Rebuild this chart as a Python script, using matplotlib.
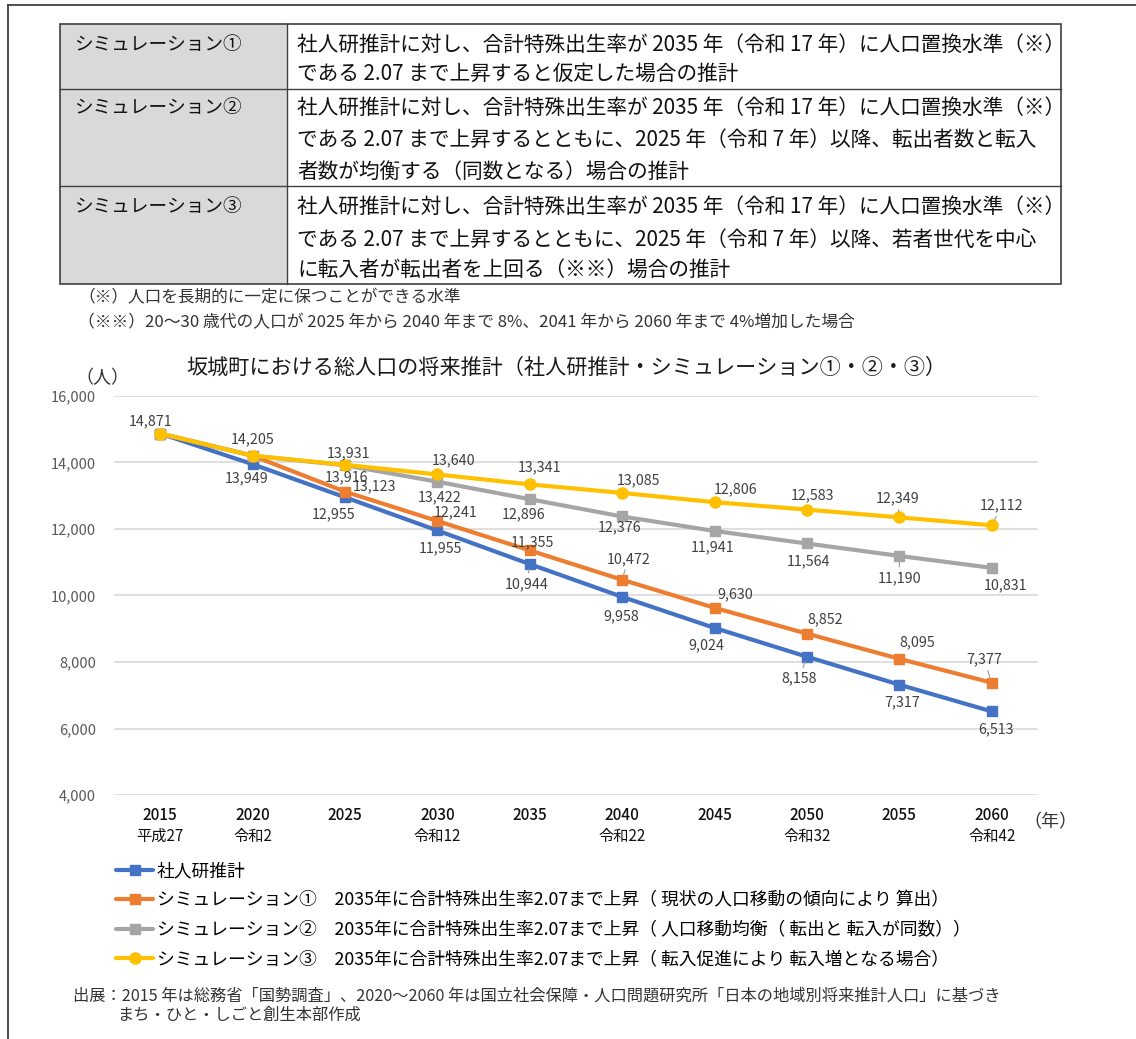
import matplotlib
matplotlib.use("Agg")
import matplotlib.pyplot as plt
from matplotlib.patches import Rectangle
from matplotlib.lines import Line2D

plt.rcParams['font.family'] = ['Noto Sans CJK JP', 'DejaVu Sans']

# ---- data -------------------------------------------------------------
years = ['2015', '2020', '2025', '2030', '2035', '2040', '2045', '2050', '2055', '2060']
eras = ['平成27', '令和2', '', '令和12', '', '令和22', '', '令和32', '', '令和42']

ipss = [14871, 13949, 12955, 11955, 10944, 9958, 9024, 8158, 7317, 6513]
sim1 = [14871, 14205, 13123, 12241, 11355, 10472, 9630, 8852, 8095, 7377]
sim2 = [14871, 14205, 13916, 13422, 12896, 12376, 11941, 11564, 11190, 10831]
sim3 = [14871, 14205, 13931, 13640, 13341, 13085, 12806, 12583, 12349, 12112]

series_names = [
    '社人研推計',
    'シミュレーション①　2035年に合計特殊出生率2.07まで上昇（ 現状の人口移動の傾向により 算出）',
    'シミュレーション②　2035年に合計特殊出生率2.07まで上昇（ 人口移動均衡（ 転出と 転入が同数））',
    'シミュレーション③　2035年に合計特殊出生率2.07まで上昇（ 転入促進により 転入増となる場合）',
]

table_heads = ['シミュレーション①', 'シミュレーション②', 'シミュレーション③']
table_lines = [
    ['社人研推計に対し、合計特殊出生率が 2035 年（令和 17 年）に人口置換水準（※）',
     'である 2.07 まで上昇すると仮定した場合の推計'],
    ['社人研推計に対し、合計特殊出生率が 2035 年（令和 17 年）に人口置換水準（※）',
     'である 2.07 まで上昇するとともに、2025 年（令和 7 年）以降、転出者数と転入',
     '者数が均衡する（同数となる）場合の推計'],
    ['社人研推計に対し、合計特殊出生率が 2035 年（令和 17 年）に人口置換水準（※）',
     'である 2.07 まで上昇するとともに、2025 年（令和 7 年）以降、若者世代を中心',
     'に転入者が転出者を上回る（※※）場合の推計'],
]
notes = ['（※）人口を長期的に一定に保つことができる水準',
         '（※※）20～30 歳代の人口が 2025 年から 2040 年まで 8%、2041 年から 2060 年まで 4%増加した場合']
title = '坂城町における総人口の将来推計（社人研推計・シミュレーション①・②・③）'
source = ['出展：2015 年は総務省「国勢調査」、2020～2060 年は国立社会保障・人口問題研究所「日本の地域別将来推計人口」に基づき',
          'まち・ひと・しごと創生本部作成']

# ---- style ------------------------------------------------------------
colors = ['#4472C4', '#ED7D31', '#A5A5A5', '#FFC000']
markers = ['s', 's', 's', 'o']

# label offsets in pixels (dx right, dy down); None = no label; flag = leader line
label_offsets = [
    [(-10, -12, 0), (-6, 14, 0), (-11, 17, 0), (3, 18, 0), (-3, 20, 1), (-1, 19, 0), (-8, 17, 0), (-8, 22, 1), (3, 18, 0), (4, 18, 0)],
    [None, None, (30, -5, 0), (18, -9, 0), (3, -8, 0), (6, -21, 1), (21, -14, 0), (18, -14, 0), (18, -17, 0), (-8, -23, 1)],
    [None, None, (1, 12, 0), (2, 16, 0), (-6, 15, 0), (-3, 11, 0), (-2, 16, 0), (2, 18, 0), (0, 22, 1), (14, 17, 0)],
    [None, (0, -16, 0), (4, -11, 0), (16, -14, 0), (10, -17, 0), (16, -13, 0), (21, -13, 0), (5, -14, 0), (-2, -19, 1), (10, -20, 1)],
]

W, H, DPI = 1136, 1039, 100
fig = plt.figure(figsize=(W / DPI, H / DPI), dpi=DPI)


def fx(px):
    return px / W


def fy(py):
    return 1 - py / H


# outer frame (left and top edges)
fig.add_artist(Line2D([fx(8), fx(8)], [fy(5), 0], color='#404040', lw=1.3))
fig.add_artist(Line2D([fx(8), 1], [fy(5), fy(5)], color='#404040', lw=1.3))

# ---- table ------------------------------------------------------------
tx0, tx1, tcol = 60, 1061, 287
row_y = [24, 89, 186, 284]
for i in range(3):
    fig.add_artist(Rectangle((fx(tx0), fy(row_y[i + 1])), fx(tcol) - fx(tx0),
                             fy(row_y[i]) - fy(row_y[i + 1]),
                             facecolor='#D9D9D9', edgecolor='none'))
fig.add_artist(Rectangle((fx(tx0), fy(row_y[-1])), fx(tx1) - fx(tx0),
                         fy(row_y[0]) - fy(row_y[-1]), facecolor='none',
                         edgecolor='#404040', lw=1.2))
for yy in row_y[1:-1]:
    fig.add_artist(Line2D([fx(tx0), fx(tx1)], [fy(yy), fy(yy)], color='#404040', lw=1.0))
fig.add_artist(Line2D([fx(tcol), fx(tcol)], [fy(row_y[0]), fy(row_y[-1])], color='#404040', lw=1.0))

line_y = [[45, 74], [108, 140, 172], [207, 240, 270]]
for i in range(3):
    fig.text(fx(74), fy(line_y[i][0]), table_heads[i], fontsize=13.4, va='center', ha='left',
             color='#111111')
    for ly, txt in zip(line_y[i], table_lines[i]):
        fig.text(fx(297), fy(ly), txt, fontsize=14.9, va='center', ha='left', color='#111111')

fig.text(fx(78), fy(298), notes[0], fontsize=12, va='center', ha='left', color='#333333')
fig.text(fx(78), fy(323), notes[1], fontsize=12.1, va='center', ha='left', color='#333333')

# ---- chart ------------------------------------------------------------
fig.text(fx(566), fy(368), title, fontsize=15.2, va='center', ha='center', color='#1a1a1a')
fig.text(fx(102), fy(378), '（人）', fontsize=13, va='center', ha='center', color='#333333')

ax = fig.add_axes([fx(114), fy(795), fx(1038) - fx(114), fy(396) - fy(795)])
xs = list(range(len(years)))
all_series = [ipss, sim1, sim2, sim3]
handles = []
for k, vals in enumerate(all_series):
    ln, = ax.plot(xs, vals, color=colors[k], lw=3.0, marker=markers[k],
                  markersize=7.5 if markers[k] == 's' else 8, zorder=3 + k,
                  solid_capstyle='round')
    handles.append(ln)
    for i, v in enumerate(vals):
        off = label_offsets[k][i]
        if off is None:
            continue
        dx, dy, lead = off
        kw = {}
        if lead:
            kw['arrowprops'] = dict(arrowstyle='-', color='#A6A6A6', lw=0.9,
                                    shrinkA=1, shrinkB=4)
        ax.annotate(f'{v:,}', (i, v), xytext=(dx, -dy), textcoords='offset pixels',
                    ha='center', va='center', fontsize=10.3, color='#404040',
                    zorder=10, **kw)

ax.set_xlim(-0.5, len(years) - 0.5)
ax.set_ylim(4000, 16000)
ax.set_yticks(range(4000, 16001, 2000))
ax.set_yticklabels([f'{t:,}' for t in range(4000, 16001, 2000)])
ax.yaxis.grid(True, color='#D9D9D9', lw=1.2)
ax.set_axisbelow(True)
for s in ax.spines.values():
    s.set_visible(False)
ax.tick_params(axis='y', length=0, labelsize=10.5, labelcolor='#595959', pad=13)

# category axis: year on the tick, era name on a second row
ax.set_xticks(xs)
ax.set_xticklabels(years, fontweight='medium')
ax.tick_params(axis='x', length=0, labelsize=11, labelcolor='#111111', pad=9)
for i, e in enumerate(eras):
    if e:
        ax.annotate(e, (i, 0), xycoords=ax.get_xaxis_transform(), xytext=(0, -41),
                    textcoords='offset pixels', ha='center', va='center',
                    fontsize=11, color='#111111')
fig.text(fx(1050), fy(822), '（年）', fontsize=13, va='center', ha='center', color='#333333')

fig.legend(handles, series_names, loc='upper left', bbox_to_anchor=(fx(116), fy(862)),
           frameon=False, fontsize=12.8, handlelength=2.1, handletextpad=0.2,
           labelspacing=0.64, borderaxespad=0, borderpad=0)

fig.text(fx(73), fy(996), source[0], fontsize=11.7, va='center', ha='left', color='#333333')
fig.text(fx(117), fy(1015), source[1], fontsize=11.7, va='center', ha='left', color='#333333')

fig.savefig('out.png', dpi=DPI)
